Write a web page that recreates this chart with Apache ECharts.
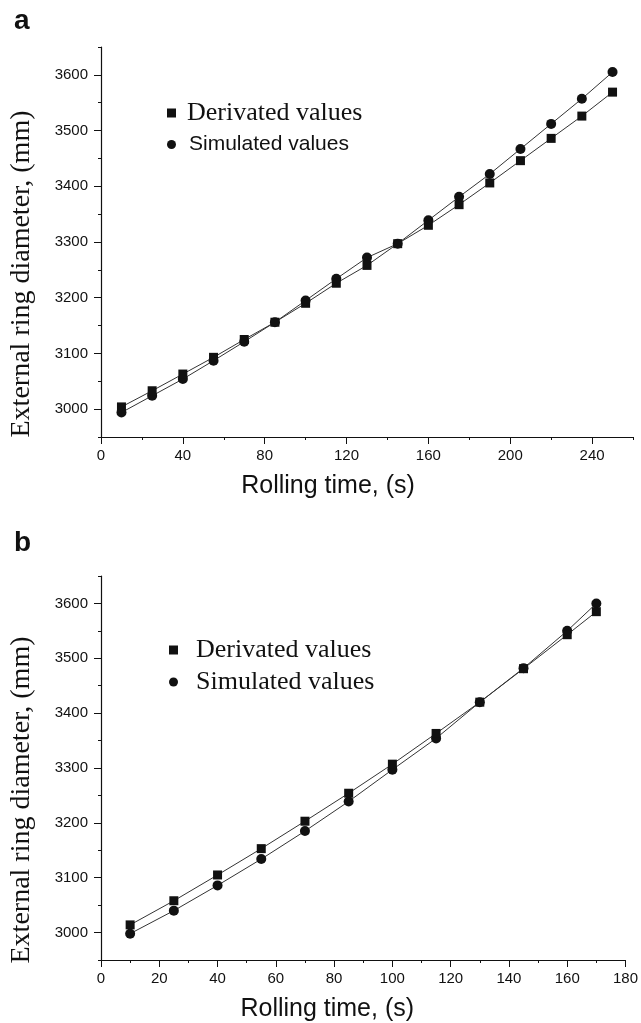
<!DOCTYPE html>
<html>
<head>
<meta charset="utf-8">
<script src="https://cdn.jsdelivr.net/npm/echarts@6/dist/echarts.min.js"></script>
<style>
  html, body { margin: 0; padding: 0; background: #fff; }
  .chart { width: 641px; height: 1023px; }
</style>
</head>
<body>
<div class="chart"></div>
<script>
// 图 a 数据
const timeA = [10, 25, 40, 55, 70, 85, 100, 115, 130, 145, 160, 175, 190, 205, 220, 235, 250]
const derivA = [3004, 3033, 3063, 3093, 3125, 3156, 3190, 3226, 3258, 3297, 3330, 3367, 3406, 3446, 3486, 3526, 3569]
const simA = [2994, 3024, 3054, 3087, 3121, 3156, 3195, 3234, 3272, 3297, 3339, 3381, 3422, 3467, 3512, 3557, 3605]
// 图 b 数据
const timeB = [10, 25, 40, 55, 70, 85, 100, 115, 130, 145, 160, 170]
const derivB = [3014, 3058, 3105, 3153, 3203, 3254, 3307, 3363, 3420, 3481, 3543, 3585]
const simB = [2998, 3040, 3086, 3134, 3185, 3239, 3297, 3354, 3420, 3482, 3550, 3600]
// 刻度
const yTicks = [3000, 3100, 3200, 3300, 3400, 3500, 3600]
const yMinor = [2950, 3050, 3150, 3250, 3350, 3450, 3550, 3650]
const xTicksA = [0, 40, 80, 120, 160, 200, 240]
const xMinorA = [20, 60, 100, 140, 180, 220, 260]
const xTicksB = [0, 20, 40, 60, 80, 100, 120, 140, 160, 180]
const xMinorB = [10, 30, 50, 70, 90, 110, 130, 150, 170]

const names = ['Derivated values', 'Simulated values']
const sans = 'Liberation Sans, Arial, sans-serif'
const serif = 'Liberation Serif, Times New Roman, serif'

function pairs(xs, ys) {
  return xs.map((x, i) => [x, ys[i]])
}

// 主坐标轴（带标签和长刻度）
function mainX(grid, max, ticks, shift) {
  return {
    type: 'value',
    gridIndex: grid,
    position: 'bottom',
    min: 0,
    max: max,
    name: 'Rolling time, (s)',
    nameLocation: 'middle',
    nameGap: 37,
    // 轴标题略偏左
    nameTextStyle: { fontFamily: sans, fontSize: 25, color: '#111', padding: [0, shift, 0, 0] },
    axisLine: { lineStyle: { color: '#111', width: 1.2 } },
    axisTick: { show: true, inside: false, length: 7, customValues: ticks, lineStyle: { color: '#111' } },
    axisLabel: { customValues: ticks, fontFamily: sans, fontSize: 15, color: '#111', margin: 11, formatter: (v) => String(v) },
    splitLine: { show: false },
  }
}
// 次刻度（短刻度，无标签）
function minorX(grid, max, ticks) {
  return {
    type: 'value',
    gridIndex: grid,
    position: 'bottom',
    min: 0,
    max: max,
    axisLine: { show: false },
    axisTick: { show: true, length: 3, customValues: ticks, lineStyle: { color: '#111' } },
    axisLabel: { show: false },
    splitLine: { show: false },
  }
}
function mainY(grid) {
  return {
    type: 'value',
    gridIndex: grid,
    position: 'left',
    min: 2950,
    max: 3650,
    name: 'External ring diameter, (mm)',
    nameLocation: 'middle',
    nameGap: 65,
    nameTextStyle: { fontFamily: serif, fontSize: 28, color: '#111', padding: [0, 64, 0, 0] },
    axisLine: { show: true, lineStyle: { color: '#111', width: 1.2 } },
    axisTick: { show: true, length: 7, customValues: yTicks, lineStyle: { color: '#111' } },
    axisLabel: { customValues: yTicks, fontFamily: sans, fontSize: 15, color: '#111', margin: 13, formatter: (v) => String(v) },
    splitLine: { show: false },
  }
}
function minorY(grid) {
  return {
    type: 'value',
    gridIndex: grid,
    position: 'left',
    min: 2950,
    max: 3650,
    axisLine: { show: false },
    axisTick: { show: true, length: 3, customValues: yMinor, lineStyle: { color: '#111' } },
    axisLabel: { show: false },
    splitLine: { show: false },
  }
}
function line(name, data, axis, symbol, size) {
  return {
    name: name,
    type: 'line',
    xAxisIndex: axis,
    yAxisIndex: axis,
    data: data,
    symbol: symbol,
    symbolSize: size,
    itemStyle: { color: '#111' },
    lineStyle: { color: '#333', width: 1 },
    emphasis: { disabled: true },
    animation: false,
    z: symbol === 'rect' ? 3 : 2,
  }
}

const option = {
  animation: false,
  title: [
    { text: 'a', left: 9, top: 2, textStyle: { fontFamily: sans, fontSize: 28, fontWeight: 'bold', color: '#111' } },
    { text: 'b', left: 9, top: 524, textStyle: { fontFamily: sans, fontSize: 28, fontWeight: 'bold', color: '#111' } },
  ],
  grid: [
    { left: 100, top: 47, width: 533, height: 390 },
    { left: 101, top: 576, width: 528, height: 389 },
  ],
  // 图例
  legend: [
    {
      orient: 'vertical',
      left: 162,
      top: 95,
      itemWidth: 9,
      itemHeight: 9,
      itemGap: 8,
      data: [{ name: names[0], icon: 'rect' }, { name: names[1], icon: 'circle' }],
      formatter: (n) => (n === names[0] ? '{serif|' + n + '}' : '{sans|' + n + '}'),
      textStyle: {
        color: '#111',
        rich: {
          serif: { fontFamily: serif, fontSize: 26, lineHeight: 26, color: '#111', padding: [0, 0, 0, 6] },
          sans: { fontFamily: sans, fontSize: 21, lineHeight: 22, color: '#111', padding: [0, 0, 0, 8] },
        },
      },
      selectedMode: false,
    },
    {
      orient: 'vertical',
      left: 164,
      top: 632,
      itemWidth: 9,
      itemHeight: 9,
      itemGap: 6,
      data: [{ name: names[0], icon: 'rect' }, { name: names[1], icon: 'circle' }],
      formatter: (n) => '{serif|' + n + '}',
      textStyle: {
        color: '#111',
        rich: {
          serif: { fontFamily: serif, fontSize: 26, lineHeight: 26, color: '#111', padding: [0, 0, 0, 13] },
        },
      },
      selectedMode: false,
    },
  ],
  xAxis: [mainX(0, 260, xTicksA, 78), mainX(1, 180, xTicksB, 72), minorX(0, 260, xMinorA), minorX(1, 180, xMinorB)],
  yAxis: [mainY(0), mainY(1), minorY(0), minorY(1)],
  series: [
    line(names[0], pairs(timeA, derivA), 0, 'rect', 9),
    line(names[1], pairs(timeA, simA), 0, 'circle', 10),
    line(names[0], pairs(timeB, derivB), 1, 'rect', 9),
    line(names[1], pairs(timeB, simB), 1, 'circle', 10),
  ],
}
echarts.init(document.querySelector('.chart')).setOption(option)
</script>
</body>
</html>
